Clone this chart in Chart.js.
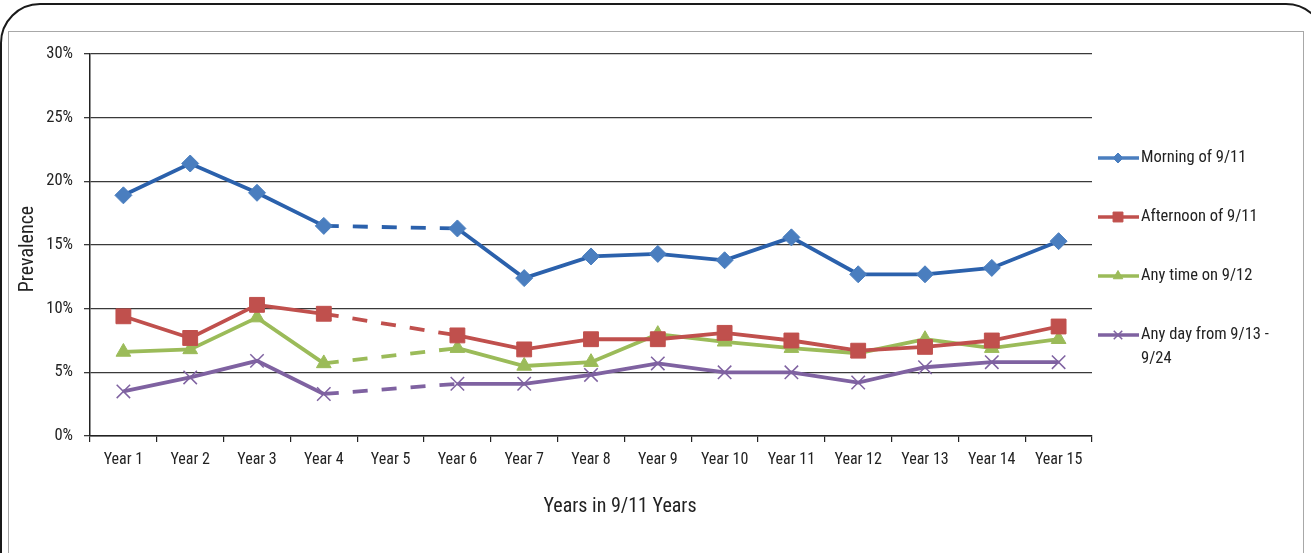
<!DOCTYPE html>
<html>
<head>
<meta charset="utf-8">
<script src="https://cdn.jsdelivr.net/npm/chart.js@4.4.1/dist/chart.umd.min.js"></script>
<style>
  html, body { margin: 0; padding: 0; background: #fff; overflow: hidden; }
  #wrap { position: relative; width: 1311px; height: 553px; overflow: hidden; }
  #outer { position: absolute; left: 0px; top: 3px; width: 1326px; height: 640px; border: 2.5px solid #1a1a1a; border-radius: 40px; box-sizing: border-box; }
  #inner { position: absolute; left: 8px; top: 31px; width: 1296px; height: 600px; border: 1.5px solid #a8a8a8; box-sizing: border-box; }
  #cv { position: absolute; left: 0; top: 0; }
</style>
</head>
<body>
<div id="wrap">
  <div id="outer"></div>
  <div id="inner"></div>
  <canvas id="cv" width="1311" height="553"></canvas>
</div>
<script>
const categories = ["Year 1","Year 2","Year 3","Year 4","Year 5","Year 6","Year 7","Year 8","Year 9","Year 10","Year 11","Year 12","Year 13","Year 14","Year 15"];
const morning   = [18.9, 21.4, 19.1, 16.5, null, 16.3, 12.4, 14.1, 14.3, 13.8, 15.6, 12.7, 12.7, 13.2, 15.3];
const afternoon = [9.4, 7.7, 10.3, 9.6, null, 7.9, 6.8, 7.6, 7.6, 8.1, 7.5, 6.7, 7.0, 7.5, 8.6];
const anyTime912 = [6.6, 6.8, 9.3, 5.7, null, 6.9, 5.5, 5.8, 8.0, 7.4, 6.9, 6.5, 7.6, 6.9, 7.6];
const anyDay913 = [3.5, 4.6, 5.9, 3.3, null, 4.1, 4.1, 4.8, 5.7, 5.0, 5.0, 4.2, 5.4, 5.8, 5.8];
const seriesNames = ["Morning of 9/11", "Afternoon of 9/11", "Any time on 9/12", ["Any day from 9/13 -", "9/24"]];
const yTicks = [0, 5, 10, 15, 20, 25, 30];

const FONT = "'Roboto Condensed', 'DejaVu Sans Condensed', sans-serif";
const dataArrays = [morning, afternoon, anyTime912, anyDay913];

const dashSeg = {
  borderDash: ctx => {
    const d = dataArrays[ctx.datasetIndex];
    return (d[ctx.p0DataIndex] == null || d[ctx.p1DataIndex] == null || ctx.p1DataIndex - ctx.p0DataIndex > 1) ? [15, 14] : undefined;
  }
};

const styles = [
  { line: '#2B61AC', fill: '#4A7EBF', shape: 'rectRot', r: 8.5, bw: 1 },
  { line: '#C0504D', fill: '#C0504D', shape: 'rect', r: 10.5, bw: 1 },
  { line: '#9BBB59', fill: '#9BBB59', shape: 'triangle', r: 8.5, bw: 1 },
  { line: '#7F62A1', fill: '#7F62A1', shape: 'crossRot', r: 9.5, bw: 1.5 }
];

const datasets = dataArrays.map((d, i) => ({
  label: Array.isArray(seriesNames[i]) ? seriesNames[i].join(' ') : seriesNames[i],
  data: d,
  borderColor: styles[i].line,
  backgroundColor: styles[i].fill,
  pointBackgroundColor: styles[i].fill,
  pointBorderColor: styles[i].fill,
  pointStyle: styles[i].shape,
  pointRadius: styles[i].r,
  pointBorderWidth: styles[i].bw,
  borderWidth: 3.8,
  tension: 0,
  spanGaps: true,
  segment: dashSeg,
  borderCapStyle: 'butt'
}));

const legendPlugin = {
  id: 'customLegend',
  afterDraw(chart) {
    const c = chart.ctx;
    const ys = [158, 217, 276, 335];
    const lr = [5, 7, 5.5, 6];
    c.save();
    ys.forEach((y, i) => {
      const st = styles[i];
      c.strokeStyle = i === 0 ? '#4A7EBF' : st.line;
      c.lineWidth = 3.5;
      c.beginPath(); c.moveTo(1098, y); c.lineTo(1139, y); c.stroke();
      c.fillStyle = st.fill; c.strokeStyle = st.fill; c.lineWidth = st.bw;
      Chart.helpers.drawPoint(c, { pointStyle: st.shape, radius: lr[i], borderWidth: st.bw, rotation: 0 }, 1118, y);
      c.fillStyle = '#222';
      c.font = "16.5px " + FONT;
      c.textAlign = 'left'; c.textBaseline = 'middle';
      const nm = seriesNames[i];
      if (Array.isArray(nm)) {
        nm.forEach((t, k) => c.fillText(t, 1141, y + k * 24));
      } else c.fillText(nm, 1141, y);
    });
    c.fillStyle = '#222';
    c.font = "20px " + FONT;
    c.textAlign = 'center'; c.textBaseline = 'middle';
    c.fillText('Years in 9/11 Years', 620, 507);
    c.translate(28, 249);
    c.rotate(-Math.PI / 2);
    c.fillText('Prevalence', 0, 0);
    c.restore();
  }
};

new Chart(document.getElementById('cv'), {
  type: 'line',
  data: { labels: categories, datasets },
  options: {
    responsive: false,
    animation: false,
    layout: { padding: { left: 0, right: 219, top: 54, bottom: 0 } },
    plugins: { legend: { display: false }, tooltip: { enabled: false } },
    scales: {
      x: {
        offset: true,
        grid: { display: true, drawOnChartArea: false, offset: true, tickLength: 6, color: '#222', lineWidth: 1.2 },
        border: { display: true, color: '#222', width: 1.5 },
        ticks: { color: '#222', font: { family: FONT, size: 16 }, padding: 8, maxRotation: 0, autoSkip: false },
        afterFit(s) { s.height = 553 - 436; }
      },
      y: {
        min: 0, max: 30,
        afterBuildTicks(s) { s.ticks = yTicks.map(v => ({ value: v })); },
        grid: { color: '#3a3a3a', lineWidth: 1.3, tickLength: 6, drawTicks: true },
        border: { display: true, color: '#222', width: 1.5 },
        ticks: { color: '#222', font: { family: FONT, size: 16.5 }, padding: 11, callback: v => v + '%' },
        afterFit(s) { s.width = 90; }
      }
    }
  },
  plugins: [legendPlugin]
});
</script>
</body>
</html>
